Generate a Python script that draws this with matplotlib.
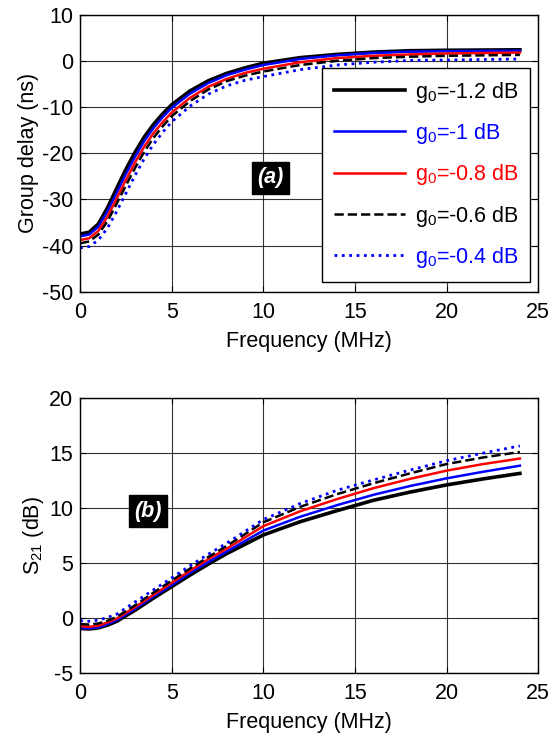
import numpy as np
import matplotlib
matplotlib.use('Agg')
import matplotlib.pyplot as plt

plt.rcParams['font.family'] = ['Liberation Sans', 'DejaVu Sans']
plt.rcParams['mathtext.fontset'] = 'custom'
plt.rcParams['mathtext.rm'] = 'Liberation Sans'
plt.rcParams['axes.unicode_minus'] = False

# group delay data (ns)
f_gd = [0, 0.5, 1, 1.5, 2, 2.5, 3, 3.5, 4, 4.5, 5, 6, 7, 8, 9, 10, 12, 14, 16, 18, 20, 22, 24]
gd_12 = [-37.5, -37.1, -35.3, -31.8, -27.6, -23.5, -19.8, -16.5, -13.8, -11.5, -9.5, -6.5, -4.3, -2.7, -1.5, -0.5, 0.7, 1.4, 1.9, 2.2, 2.3, 2.35, 2.4]
gd_10 = [-38.0, -37.6, -35.9, -32.6, -28.6, -24.5, -20.8, -17.4, -14.6, -12.2, -10.2, -7.1, -4.8, -3.1, -1.9, -0.9, 0.4, 1.2, 1.7, 2.0, 2.1, 2.15, 2.2]
gd_08 = [-38.8, -38.4, -36.8, -33.7, -29.8, -25.8, -22.0, -18.6, -15.7, -13.3, -11.2, -8.0, -5.6, -3.9, -2.6, -1.7, -0.3, 0.6, 1.1, 1.4, 1.6, 1.7, 1.8]
gd_06 = [-39.5, -39.1, -37.6, -34.7, -30.9, -27.0, -23.2, -19.7, -16.7, -14.2, -12.0, -8.7, -6.2, -4.4, -3.2, -2.3, -0.9, 0.0, 0.6, 0.9, 1.1, 1.2, 1.3]
gd_04 = [-40.5, -40.2, -38.8, -36.2, -32.6, -28.7, -24.8, -21.2, -18.1, -15.5, -13.2, -9.8, -7.2, -5.4, -4.2, -3.4, -1.9, -0.9, -0.3, 0.1, 0.2, 0.3, 0.4]

# S21 data (dB)
f_s = [0, 0.5, 1, 1.5, 2, 3, 4, 5, 6, 7, 8, 10, 12, 14, 16, 18, 20, 22, 24]
s_12 = [-0.95, -1.0, -0.9, -0.65, -0.3, 0.7, 1.8, 2.85, 3.9, 4.9, 5.85, 7.55, 8.75, 9.75, 10.7, 11.45, 12.1, 12.65, 13.15]
s_10 = [-0.9, -0.95, -0.85, -0.55, -0.2, 0.85, 1.95, 3.0, 4.1, 5.1, 6.05, 7.95, 9.2, 10.25, 11.2, 12.0, 12.7, 13.3, 13.85]
s_08 = [-0.75, -0.8, -0.7, -0.4, -0.05, 1.0, 2.1, 3.2, 4.3, 5.35, 6.3, 8.35, 9.7, 10.8, 11.8, 12.65, 13.4, 14.0, 14.5]
s_06 = [-0.55, -0.6, -0.5, -0.25, 0.1, 1.15, 2.3, 3.4, 4.5, 5.55, 6.55, 8.7, 10.1, 11.25, 12.25, 13.15, 14.0, 14.6, 15.1]
s_04 = [-0.25, -0.3, -0.2, 0.05, 0.35, 1.45, 2.55, 3.65, 4.75, 5.8, 6.8, 8.95, 10.4, 11.6, 12.55, 13.45, 14.3, 15.0, 15.65]

labels = ['g$_0$=-1.2 dB', 'g$_0$=-1 dB', 'g$_0$=-0.8 dB', 'g$_0$=-0.6 dB', 'g$_0$=-0.4 dB']
colors = ['k', 'b', 'r', 'k', 'b']
styles = ['-', '-', '-', '--', ':']
widths = [2.6, 1.8, 1.8, 1.8, 2.0]
fs = 15.5

fig = plt.figure(figsize=(5.52, 7.35), dpi=100)
ax1 = fig.add_axes([0.145, 0.603, 0.830, 0.377])
ax2 = fig.add_axes([0.145, 0.0844, 0.830, 0.374])

for ys, c, ls, lw, lab in zip([gd_12, gd_10, gd_08, gd_06, gd_04], colors, styles, widths, labels):
    ax1.plot(f_gd, ys, color=c, linestyle=ls, linewidth=lw, label=lab)
for ys, c, ls, lw in zip([s_12, s_10, s_08, s_06, s_04], colors, styles, widths):
    ax2.plot(f_s, ys, color=c, linestyle=ls, linewidth=lw)

for ax in (ax1, ax2):
    ax.set_xlim(0, 25)
    ax.set_xticks(range(0, 26, 5))
    ax.grid(True, color='k', linewidth=0.8, alpha=0.8)
    ax.tick_params(direction='in', top=True, right=True, labelsize=fs, length=4, pad=7)
    ax.set_xlabel('Frequency (MHz)', fontsize=fs, labelpad=6)
    for s in ax.spines.values():
        s.set_linewidth(1.0)

ax1.set_ylim(-50, 10)
ax1.set_yticks(range(-50, 11, 10))
ax1.set_ylabel('Group delay (ns)', fontsize=fs, labelpad=2)
ax2.set_ylim(-5, 20)
ax2.set_yticks(range(-5, 21, 5))
ax2.set_ylabel('S$_{21}$ (dB)', fontsize=fs, labelpad=2)
for ax in (ax1, ax2):
    ax.tick_params(axis='y', pad=5)

leg = ax1.legend(loc='lower right', bbox_to_anchor=(0.983, 0.036), fontsize=fs,
                 handlelength=3.3, handletextpad=0.45, fancybox=False, framealpha=1,
                 edgecolor='k', labelspacing=0.76, borderpad=0.55, borderaxespad=0)
leg.get_frame().set_linewidth(1.0)
for t, c in zip(leg.get_texts(), colors):
    t.set_color(c)

ax1.text(10.4, -25.3, '(a)', color='w', fontsize=fs, fontweight='bold', style='italic',
         ha='center', va='center', bbox=dict(facecolor='k', edgecolor='k', pad=4))
ax2.text(3.7, 9.7, '(b)', color='w', fontsize=fs, fontweight='bold', style='italic',
         ha='center', va='center', bbox=dict(facecolor='k', edgecolor='k', pad=4))

fig.savefig('out.png', dpi=100)
